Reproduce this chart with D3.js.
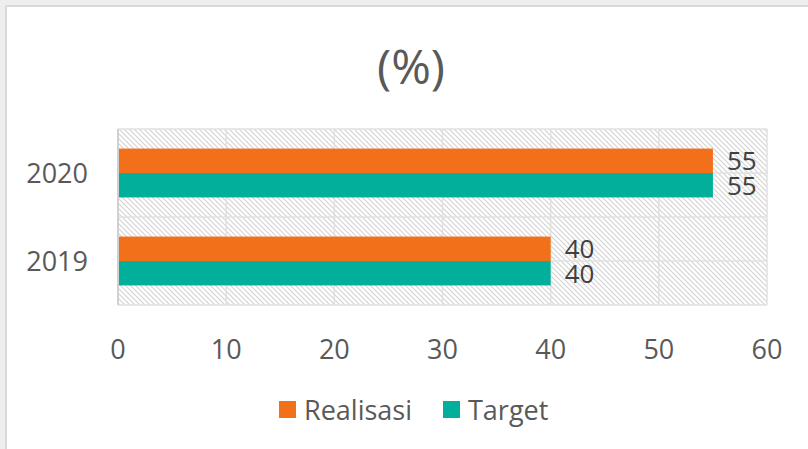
<!DOCTYPE html>
<html>
<head>
<meta charset="utf-8">
<script src="https://cdn.jsdelivr.net/npm/d3@7"></script>
<style>
  body { margin: 0; background: #efeeee; }
  svg { display: block; }
  text { font-family: "Open Sans", "Noto Sans", sans-serif; }
</style>
</head>
<body>
<div id="chart"></div>
<script>
// data
var years = ["2020", "2019"];
var seriesNames = ["Realisasi", "Target"];
var realisasi = [55, 40];
var target = [55, 40];
var xTicks = [0, 10, 20, 30, 40, 50, 60];
var colors = ["#f27019", "#02af9b"];

var W = 808, H = 449;
var svg = d3.select("#chart").append("svg").attr("width", W).attr("height", H);

// outer frame
svg.append("rect").attr("x", 0).attr("y", 0).attr("width", W).attr("height", H).attr("fill", "#efeeee");
svg.append("rect").attr("x", 6).attr("y", 6).attr("width", W).attr("height", H)
    .attr("fill", "#ffffff").attr("stroke", "#d9d9d9").attr("stroke-width", 2);

// hatch pattern
var defs = svg.append("defs");
var pat = defs.append("pattern").attr("id", "hatch").attr("patternUnits", "userSpaceOnUse")
    .attr("width", 5).attr("height", 5);
pat.append("rect").attr("width", 5).attr("height", 5).attr("fill", "#ffffff");
pat.append("path").attr("d", "M-1,-1 L6,6 M-1,4 L1,6 M4,-1 L6,1")
    .attr("stroke", "#d4d4d4").attr("stroke-width", 1.2);

var plotL = 118, plotR = 767, plotT = 129, plotB = 305;

var x = d3.scaleLinear().domain([0, 60]).range([plotL, plotR]);
var y = d3.scaleBand().domain(years).range([plotT, plotB]);
var ySub = d3.scaleBand().domain(seriesNames).range([0, y.bandwidth()]).paddingOuter(0.8).paddingInner(0);

// plot background
svg.append("rect").attr("x", plotL).attr("y", plotT).attr("width", plotR - plotL).attr("height", plotB - plotT)
    .attr("fill", "url(#hatch)");

// gridlines
svg.selectAll(".vgrid").data(xTicks).enter().append("line")
    .attr("x1", d => x(d)).attr("x2", d => x(d))
    .attr("y1", plotT).attr("y2", plotB)
    .attr("stroke", "#e0e0e0").attr("stroke-width", 1.5);

var hLines = [];
years.forEach(function(yr) {
    hLines.push(y(yr));
    hLines.push(y(yr) + y.bandwidth() / 2);
});
hLines.push(plotB);
svg.selectAll(".hgrid").data(hLines).enter().append("line")
    .attr("x1", plotL).attr("x2", plotR)
    .attr("y1", d => d).attr("y2", d => d)
    .attr("stroke", "#e0e0e0").attr("stroke-width", 1.5);

// bars
var rows = [];
years.forEach(function(yr, i) {
    rows.push({ year: yr, s: "Realisasi", v: realisasi[i], c: colors[0] });
    rows.push({ year: yr, s: "Target", v: target[i], c: colors[1] });
});

svg.selectAll(".bar").data(rows).enter().append("rect")
    .attr("x", x(0))
    .attr("y", d => y(d.year) + ySub(d.s))
    .attr("width", d => x(d.v) - x(0))
    .attr("height", ySub.bandwidth())
    .attr("fill", d => d.c);

svg.selectAll(".lbl").data(rows).enter().append("text")
    .attr("x", d => x(d.v) + 14)
    .attr("y", d => y(d.year) + ySub(d.s) + ySub.bandwidth() / 2)
    .attr("dy", "0.36em")
    .attr("font-size", 26)
    .attr("fill", "#404040")
    .text(d => d.v);

// left axis line
svg.append("line").attr("x1", plotL).attr("x2", plotL).attr("y1", plotT).attr("y2", plotB)
    .attr("stroke", "#d0d0d0").attr("stroke-width", 2);

// x tick labels
svg.selectAll(".xt").data(xTicks).enter().append("text")
    .attr("x", d => x(d)).attr("y", 359)
    .attr("text-anchor", "middle")
    .attr("font-size", 27).attr("fill", "#595959")
    .text(d => d);

// y labels
svg.selectAll(".yt").data(years).enter().append("text")
    .attr("x", 88).attr("y", d => y(d) + y.bandwidth() / 2)
    .attr("dy", "0.36em")
    .attr("text-anchor", "end")
    .attr("font-size", 27).attr("fill", "#595959")
    .text(d => d);

// title
svg.append("text").attr("x", 411).attr("y", 84)
    .attr("text-anchor", "middle")
    .attr("font-size", 48).attr("fill", "#595959")
    .text("(%)");

// legend
var leg = [{ name: "Realisasi", x: 279, c: colors[0] }, { name: "Target", x: 443, c: colors[1] }];
var lg = svg.selectAll(".leg").data(leg).enter().append("g");
lg.append("rect").attr("x", d => d.x).attr("y", 401).attr("width", 17).attr("height", 17).attr("fill", d => d.c);
lg.append("text").attr("x", d => d.x + 25).attr("y", 410).attr("dy", "0.36em")
    .attr("font-size", 27).attr("fill", "#595959")
    .text(d => d.name);
</script>
</body>
</html>
